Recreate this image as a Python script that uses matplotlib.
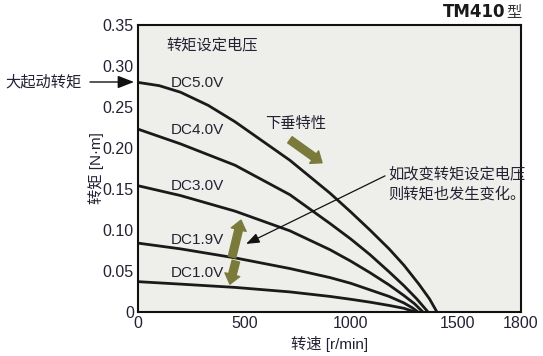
import matplotlib
matplotlib.use('Agg')
import matplotlib.pyplot as plt
from matplotlib.patches import FancyArrowPatch

plt.rcParams['font.family'] = ['Liberation Sans', 'Noto Sans CJK SC', 'DejaVu Sans']

# speed [r/min] vs torque [N.m]
speed_5v = [0, 100, 200, 330, 456, 714, 902, 1000, 1090, 1180, 1250, 1320, 1370, 1405]
torque_5v = [0.280, 0.276, 0.268, 0.252, 0.232, 0.185, 0.145, 0.122, 0.100, 0.077, 0.057, 0.034, 0.016, 0.0]
speed_4v = [0, 200, 456, 714, 902, 1000, 1090, 1180, 1250, 1310, 1363]
torque_4v = [0.223, 0.205, 0.179, 0.143, 0.108, 0.089, 0.070, 0.049, 0.032, 0.016, 0.0]
speed_3v = [0, 200, 456, 714, 902, 1000, 1090, 1180, 1250, 1300, 1339]
torque_3v = [0.154, 0.142, 0.123, 0.099, 0.076, 0.062, 0.048, 0.033, 0.020, 0.010, 0.0]
speed_19v = [0, 200, 456, 714, 902, 1000, 1090, 1180, 1250, 1290, 1316]
torque_19v = [0.084, 0.077, 0.066, 0.053, 0.042, 0.035, 0.027, 0.019, 0.011, 0.005, 0.0]
speed_1v = [0, 200, 456, 714, 902, 1000, 1090, 1180, 1250, 1302]
torque_1v = [0.037, 0.034, 0.030, 0.0245, 0.019, 0.0155, 0.012, 0.008, 0.0045, 0.0]

curve_labels = ['DC5.0V', 'DC4.0V', 'DC3.0V', 'DC1.9V', 'DC1.0V']
label_y = [0.279, 0.222, 0.154, 0.088, 0.048]

xticks = [0, 500, 1000, 1500, 1800]
yticks = [0, 0.05, 0.10, 0.15, 0.20, 0.25, 0.30, 0.35]
yticklabels = ['0', '0.05', '0.10', '0.15', '0.20', '0.25', '0.30', '0.35']

olive = '#7a7b3b'
txt = '#222233'

fig = plt.figure(figsize=(5.43, 3.56), dpi=100)
ax = fig.add_axes([0.2541, 0.1236, 0.7054, 0.8062])
ax.set_facecolor('#eeefea')

curves = [(speed_5v, torque_5v), (speed_4v, torque_4v), (speed_3v, torque_3v),
          (speed_19v, torque_19v), (speed_1v, torque_1v)]
for (s, t), lab, ly in zip(curves, curve_labels, label_y):
    ax.plot(s, t, color='#1a1a1a', lw=2.0, solid_joinstyle='round')
    ax.text(155, ly, lab, fontsize=11, color=txt, va='center', ha='left')

ax.set_xlim(0, 1800)
ax.set_ylim(0, 0.35)
ax.set_xticks(xticks)
ax.set_yticks(yticks)
ax.set_yticklabels(yticklabels)
ax.tick_params(length=0, labelsize=11.5, labelcolor=txt, pad=3)
for sp in ax.spines.values():
    sp.set_linewidth(1.5)
    sp.set_color('#111111')

ax.set_xlabel('转速 [r/min]', fontsize=11, color=txt)
ax.xaxis.set_label_coords(0.501, -0.085)
ax.set_ylabel('转矩 [N·m]', fontsize=11, color=txt)
ax.yaxis.set_label_coords(-0.09, 0.5)

ax.text(132, 0.3256, '转矩设定电压', fontsize=11, color=txt, va='center')
ax.text(597, 0.229, '下垂特性', fontsize=11, color=txt, va='center')
ax.text(1175, 0.1555, '如改变转矩设定电压\n则转矩也发生变化。', fontsize=11, color=txt,
        va='center', ha='left', linespacing=1.45)

# thin pointer arrow
ax.annotate('', xy=(508, 0.083), xytext=(1161, 0.166),
            arrowprops=dict(arrowstyle='-|>,head_length=0.8,head_width=0.3',
                            color='#111111', lw=0.9, shrinkA=0, shrinkB=0))

# fat olive arrows
fat = dict(arrowstyle='simple,head_length=0.7,head_width=1.1,tail_width=0.55',
           color=olive, shrinkA=0, shrinkB=0)
ax.annotate('', xy=(865, 0.182), xytext=(714, 0.210), arrowprops=fat)
ax.annotate('', xy=(484, 0.112), xytext=(442, 0.067), arrowprops=fat)
ax.annotate('', xy=(432, 0.034), xytext=(460, 0.062), arrowprops=fat)

# left callout
fig.text(5 / 543, 1 - 82 / 356, '大起动转矩', fontsize=11, color=txt, va='center', ha='left')
fig.add_artist(FancyArrowPatch(
    (90 / 543, 1 - 82 / 356), (134 / 543, 1 - 82 / 356), transform=fig.transFigure,
    arrowstyle='-|>,head_length=0.9,head_width=0.35', mutation_scale=11,
    color='#111111', lw=1.0, shrinkA=0, shrinkB=0))

# model title
fig.text(505 / 543, 1 - 12 / 356, 'TM410', fontsize=12, fontweight='heavy',
         family='DejaVu Sans', color='#1a1a1a', ha='right', va='center')
fig.text(506 / 543, 1 - 12 / 356, '型', fontsize=11, family='Noto Sans CJK SC',
         color='#333333', ha='left', va='center')

fig.savefig('out.png', dpi=100)
